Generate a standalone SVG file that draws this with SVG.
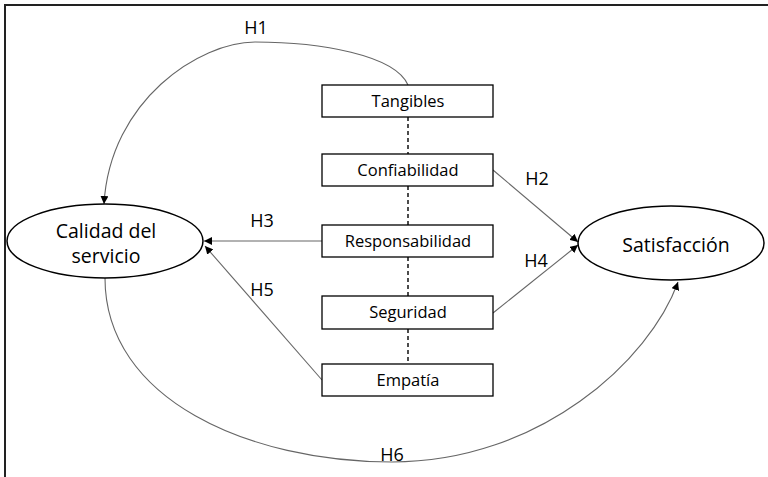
<svg xmlns="http://www.w3.org/2000/svg" width="768" height="477" viewBox="0 0 768 477">
<defs>
<marker id="ah" viewBox="0 0 10 10" refX="10" refY="5" markerWidth="8" markerHeight="8" markerUnits="userSpaceOnUse" orient="auto">
<path d="M0,0 L10,5 L0,10 z" fill="#000"/>
</marker>
<style>
.box{fill:#fff;stroke:#000;stroke-width:1.3}
.ell{fill:#fff;stroke:#000;stroke-width:1.5}
.t{font-family:"Open Sans","Liberation Sans",Arial,sans-serif;fill:#000;text-anchor:middle}
.bt{font-size:16.5px}
.et{font-size:19.5px}
.lb{font-size:18px}
.c{fill:none;stroke:#666;stroke-width:1.1}
.d{stroke:#000;stroke-width:1.4;stroke-dasharray:4 3}
</style>
</defs>
<rect width="768" height="477" fill="#fff"/>
<path d="M5,477 L5,5 L768,5" fill="none" stroke="#222" stroke-width="2"/>
<g id="connectors">
<line class="d" x1="408" y1="117" x2="408" y2="154"/>
<line class="d" x1="408" y1="186" x2="408" y2="225"/>
<line class="d" x1="408" y1="257" x2="408" y2="296"/>
<line class="d" x1="408" y1="329" x2="408" y2="364"/>
<path class="c" d="M408,85 C395,55 320,42 255,42 C200,42 110,100 104,204" marker-end="url(#ah)"/>
<line class="c" x1="322" y1="241" x2="204" y2="241" stroke-width="1.8" marker-end="url(#ah)"/>
<line class="c" x1="322" y1="380" x2="205" y2="246" marker-end="url(#ah)"/>
<line class="c" x1="493" y1="170" x2="578" y2="242" marker-end="url(#ah)"/>
<line class="c" x1="493" y1="313" x2="578" y2="245" marker-end="url(#ah)"/>
<path class="c" d="M105,278 C105,400 250,462 392,462 C540,462 650,360 678,282" marker-end="url(#ah)"/>
<text class="t lb" x="256" y="34">H1</text>
<text class="t lb" x="537" y="185">H2</text>
<text class="t lb" x="262" y="227">H3</text>
<text class="t lb" x="536" y="267">H4</text>
<text class="t lb" x="262" y="296">H5</text>
<text class="t lb" x="392" y="461">H6</text>
</g>
<g id="calidad">
<ellipse class="ell" cx="105" cy="241" rx="98" ry="37"/>
<text class="t et" x="106" y="238">Calidad del</text>
<text class="t et" x="106" y="263">servicio</text>
</g>
<g id="satisfaccion">
<ellipse class="ell" cx="671" cy="243" rx="93" ry="37"/>
<text class="t et" x="676" y="252">Satisfacción</text>
</g>
<g id="tangibles">
<rect class="box" x="322" y="85" width="171" height="32"/>
<text class="t bt" x="408" y="107">Tangibles</text>
</g>
<g id="confiabilidad">
<rect class="box" x="322" y="154" width="171" height="32"/>
<text class="t bt" x="408" y="176">Confiabilidad</text>
</g>
<g id="responsabilidad">
<rect class="box" x="322" y="225" width="171" height="32"/>
<text class="t bt" x="408" y="247">Responsabilidad</text>
</g>
<g id="seguridad">
<rect class="box" x="322" y="296" width="171" height="33"/>
<text class="t bt" x="408" y="318">Seguridad</text>
</g>
<g id="empatia">
<rect class="box" x="322" y="364" width="171" height="32"/>
<text class="t bt" x="408" y="386">Empatía</text>
</g>
</svg>
